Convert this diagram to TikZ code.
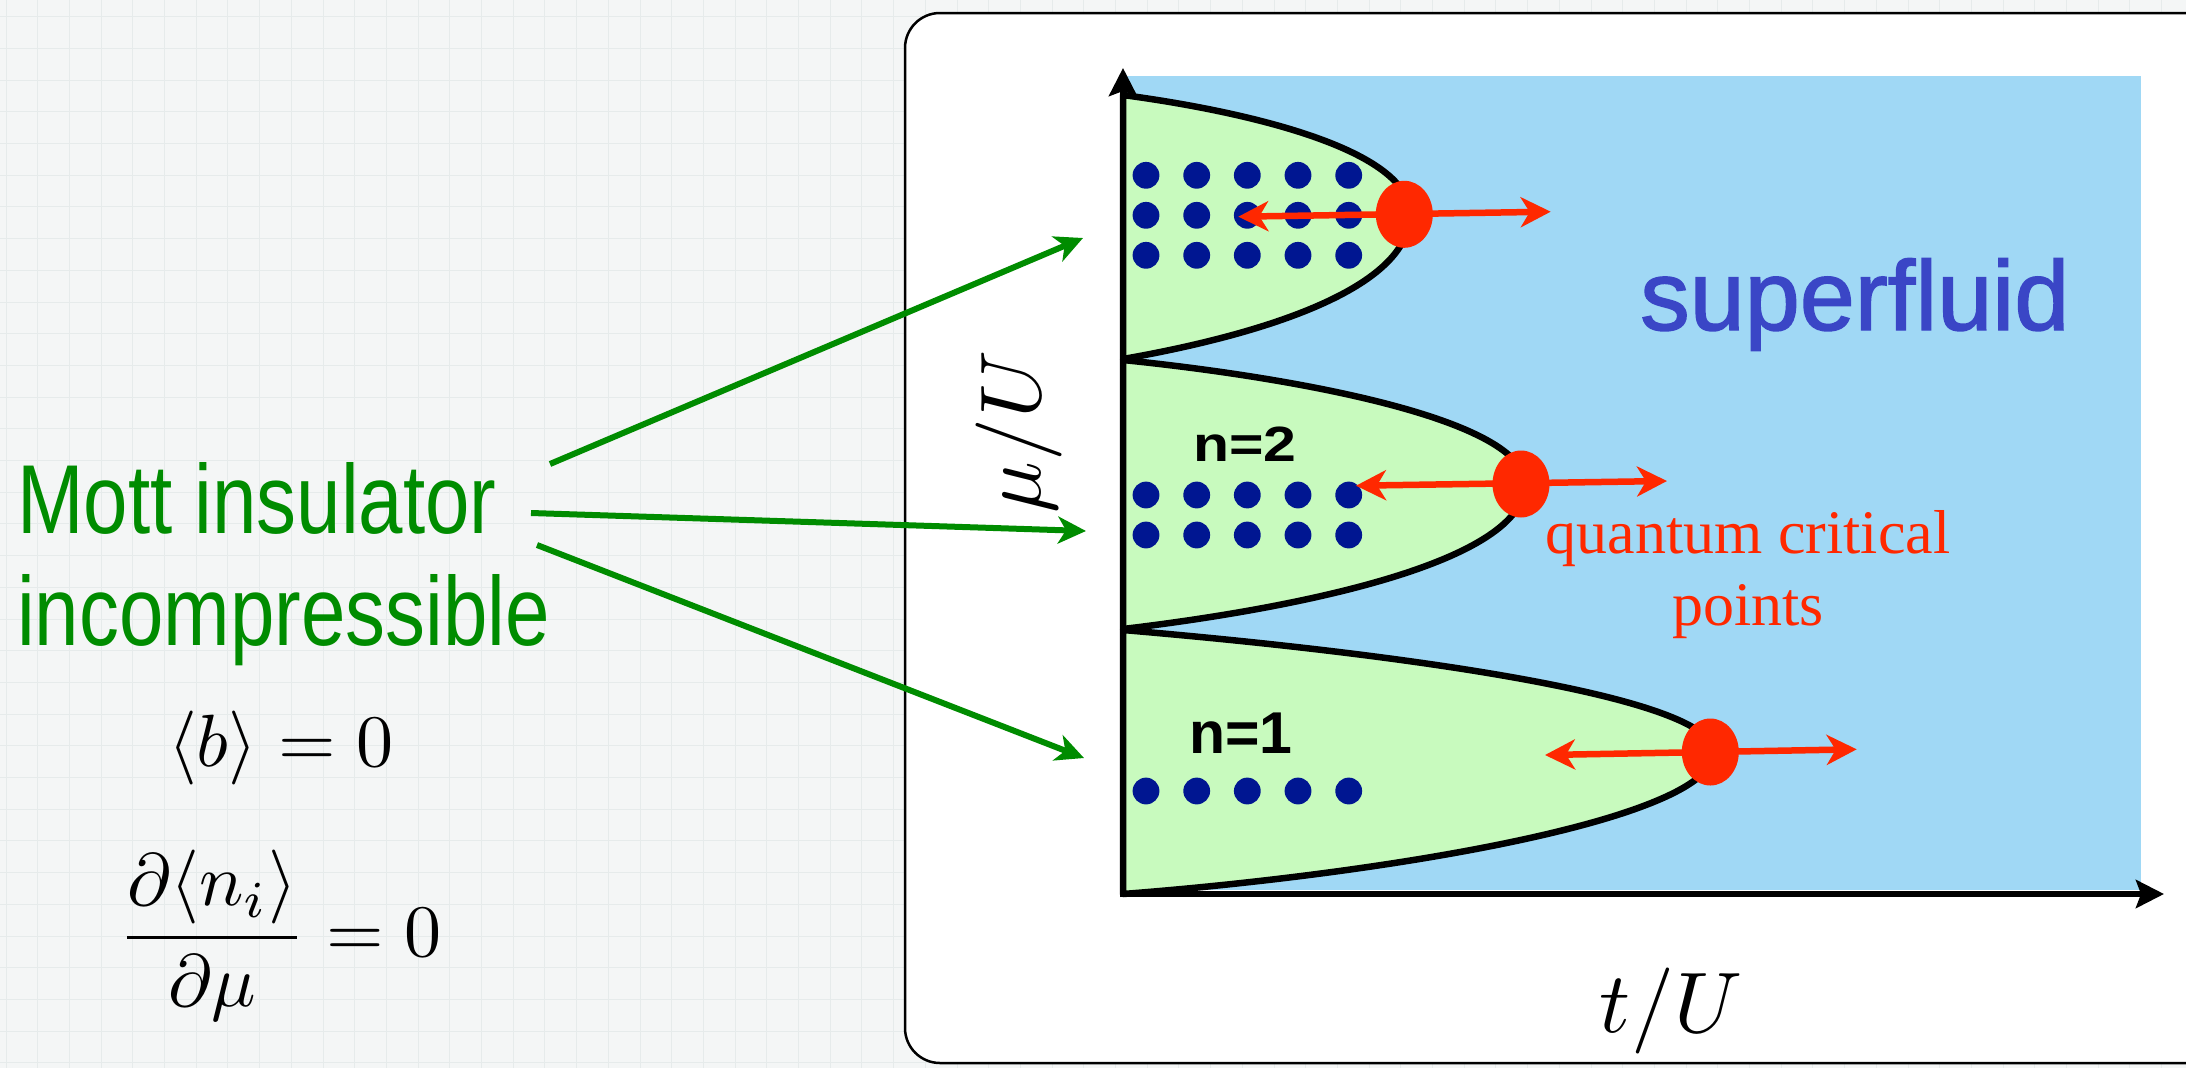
\documentclass[tikz,border=0pt]{standalone}
\usepackage{fontspec}
\usepackage{graphicx}
\usetikzlibrary{arrows.meta}
\newfontfamily\helv{Liberation Sans}
\newfontfamily\helvheavy{Liberation Sans}[FakeBold=1.5]
\newfontfamily\tms{Liberation Serif}
\definecolor{bgcol}{RGB}{244,246,246}
\definecolor{gridcol}{RGB}{230,235,235}
\definecolor{sfblue}{RGB}{160,216,245}
\definecolor{lobegreen}{RGB}{200,250,190}
\definecolor{siteblue}{RGB}{0,22,145}
\definecolor{qcred}{RGB}{255,40,0}
\definecolor{sftext}{RGB}{58,70,198}
\definecolor{mottgreen}{RGB}{0,140,0}
\begin{document}
\begin{tikzpicture}[x=1pt,y=-1pt,
  gridline/.style={draw=gridcol, line width=1pt},
  frame/.style={draw=black, line width=2.5pt, fill=white, rounded corners=35pt},
  lobe/.style={fill=lobegreen, draw=black, line width=6.5pt, line join=round},
  axisline/.style={draw=black, line width=6pt, -{Stealth[length=28pt,width=28pt,inset=5pt]}},
  qcarrow/.style={draw=qcred, line width=6.5pt, {Stealth[length=30pt,width=30pt,inset=9pt]}-{Stealth[length=30pt,width=30pt,inset=9pt]}},
  qcdot/.style={fill=qcred},
  site/.style={fill=siteblue},
  pointer/.style={draw=mottgreen, line width=6pt, -{Stealth[length=28pt,width=27pt,inset=8pt]}},
  mottlabel/.style={anchor=base west, inner sep=0pt, text=mottgreen, font=\helv\fontsize{98}{110}\selectfont},
  nlabel/.style={anchor=base west, inner sep=0pt, text=black, font=\helv\bfseries\fontsize{59}{66}\selectfont},
  qclabel/.style={anchor=base, inner sep=0pt, text=qcred, font=\tms\fontsize{62}{72}\selectfont},
  mathlabel/.style={inner sep=0pt, text=black}
]
\useasboundingbox (0,0) rectangle (2186,1068);
\clip (0,0) rectangle (2186,1068);
% background with faint grid
\fill[bgcol] (0,0) rectangle (2186,1068);
\foreach \gx in {6,37.7,...,2186} \draw[gridline] (\gx,0) -- (\gx,1068);
\foreach \gy in {16.7,48.4,...,1068} \draw[gridline] (0,\gy) -- (2186,\gy);
% rounded white frame
\draw[frame] (905,13) rectangle (2222,1063);
% superfluid region
\fill[sfblue] (1123,76) rectangle (2141,890);
% Mott lobes
\draw[lobe] (1123,95) .. controls (1250,112) and (1410,150) .. (1410,214)
            .. controls (1410,292) and (1249,337) .. (1123,359) -- cycle;
\draw[lobe] (1123,360) .. controls (1300,378) and (1525,420) .. (1525,484)
            .. controls (1525,562) and (1300,608) .. (1123,629) -- cycle;
\draw[lobe] (1123,630) .. controls (1383,652) and (1714,695) .. (1714,752)
            .. controls (1714,820) and (1383,874) .. (1123,894) -- cycle;
% axes
\coordinate (origin) at (1123,894);
\coordinate (ytip) at (1123,68);
\coordinate (xtip) at (2164,894);
\draw[axisline] (1120,894) -- (xtip);
\draw[axisline] (1123,897) -- (ytip);
% lattice sites
\foreach \sx in {1146,1196.7,1247.3,1298,1348.7} {
  \foreach \sy in {175.3,215.3,255.3} \fill[site] (\sx,\sy) circle[radius=13.4pt];
  \foreach \sy in {495,535} \fill[site] (\sx,\sy) circle[radius=13.4pt];
  \fill[site] (\sx,791) circle[radius=13.4pt];
}
% filling labels
\node[nlabel] (n2) at (1193,461.7) {\scalebox{1}[0.84]{n=2}};
\node[nlabel] (n1) at (1189,753.3) {n=1};
% quantum critical points with arrows
\coordinate (qa1l) at (1238.3,216.7); \coordinate (qa1r) at (1550.7,211.7);
\coordinate (qa2l) at (1356,485.7);   \coordinate (qa2r) at (1667,481);
\coordinate (qa3l) at (1545,755);     \coordinate (qa3r) at (1856.7,749.3);
\draw[qcarrow] (qa1l) -- (qa1r);
\draw[qcarrow] (qa2l) -- (qa2r);
\draw[qcarrow] (qa3l) -- (qa3r);
\fill[qcdot] (1404.3,214.3) ellipse [x radius=28.5pt, y radius=33.5pt];
\fill[qcdot] (1521,484) ellipse [x radius=28.5pt, y radius=33.5pt];
\fill[qcdot] (1710.3,752) ellipse [x radius=28.5pt, y radius=33.5pt];
% texts in the diagram
\node[anchor=base west, inner sep=0pt, text=sftext, font=\helvheavy\fontsize{99}{110}\selectfont] (sf) at (1640,330) {superfluid};
\node[qclabel] (qc1) at (1748,553) {quantum critical};
\node[qclabel] (qc2) at (1748,625) {points};
\node[mathlabel, anchor=base] (tU) at (1671,1032) {\scalebox{8.6}{$t/U$}};
\node[mathlabel, anchor=base, rotate=90] (muU) at (1040,432) {\scalebox{8.6}{$\mu/U$}};
% left texts
\node[mottlabel] (mott) at (17,533) {\scalebox{0.815}[1]{Mott insulator}};
\node[mottlabel] (incomp) at (17,645) {\scalebox{0.815}[1]{incompressible}};
\node[mathlabel, anchor=base west] (eqb) at (168,766) {\scalebox{7.4}{$\langle b\rangle = 0$}};
\node[mathlabel, anchor=base west] (eqn) at (118,956) {\scalebox{7.4}{$\displaystyle\frac{\partial\langle n_i\rangle}{\partial\mu} = 0$}};
% green pointers
\coordinate (p1s) at (550,464);  \coordinate (p1e) at (1083,238);
\coordinate (p2s) at (531,513);  \coordinate (p2e) at (1086,531);
\coordinate (p3s) at (537,545);  \coordinate (p3e) at (1084,758);
\draw[pointer] (p1s) -- (p1e);
\draw[pointer] (p2s) -- (p2e);
\draw[pointer] (p3s) -- (p3e);
\end{tikzpicture}
\end{document}
